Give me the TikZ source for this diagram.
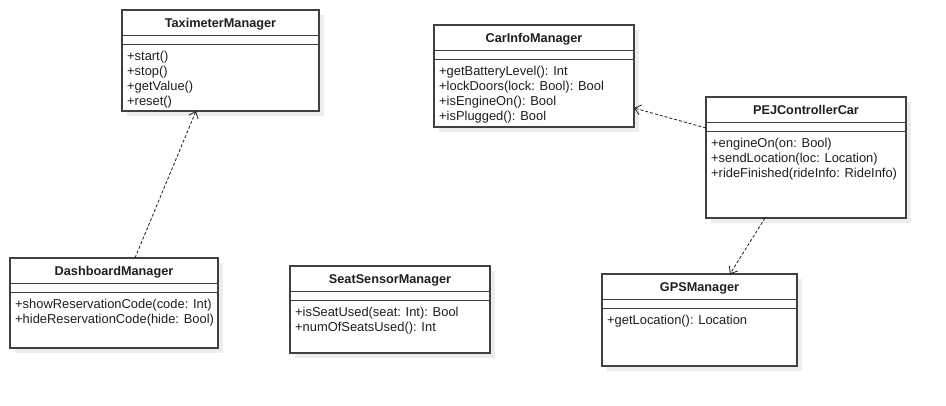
\documentclass[tikz,border=0pt]{standalone}
\usepackage{fontspec}
\setmainfont{Liberation Sans}
\usetikzlibrary{arrows.meta}
\definecolor{boxline}{HTML}{404040}
\definecolor{shadowc}{HTML}{EDEDED}
\definecolor{txt}{HTML}{1E1E1E}
\tikzset{
  classbox/.style={draw=boxline, line width=1.3pt, fill=white, anchor=north west, inner sep=0pt, outer sep=0pt},
  sepline/.style={draw=boxline, line width=1.3pt},
  classtitle/.style={anchor=base, inner sep=0pt, text=txt, font=\fontsize{12.7}{15}\selectfont\bfseries},
  meth/.style={anchor=base west, inner sep=0pt, text=txt, font=\fontsize{12.9}{15}\selectfont},
  dep/.style={draw=txt, line width=0.8pt, dash pattern=on 3pt off 2pt, -{Straight Barb[length=6pt,width=10pt,line width=0.8pt]}}
}
\newcommand\umlclass[7]{%
  \pgfmathsetmacro\uw{#4-#2}%
  \pgfmathsetmacro\uh{#5-#3}%
  \fill[shadowc] (#2+5,#3+5) rectangle (#4+5,#5+5);
  \node[classbox, minimum width=\uw pt, minimum height=\uh pt] (#1) at (#2,#3) {};
  \draw[sepline] (#2,#3+25.5) -- (#4,#3+25.5);
  \draw[sepline] (#2,#3+34.5) -- (#4,#3+34.5);
  \node[classtitle] (#1-t) at ({(#2+#4)/2},#3+17.5) {#6};
  \foreach \m [count=\i from 0] in {#7} {\node[meth] (#1-m\i) at (#2+5,#3+50.8+14.9*\i) {\m};}
}
\begin{document}
\begin{tikzpicture}[x=1pt,y=-1pt]
\fill[white] (0,0) rectangle (946,406);
\useasboundingbox (0,0) rectangle (946,406);
\umlclass{tax}{122}{10}{319}{111}{TaximeterManager}{{+start()},{+stop()},{+getValue()},{+reset()}}
\umlclass{car}{434}{25}{634}{127}{CarInfoManager}{{+getBatteryLevel(): Int},{+lockDoors(lock: Bool): Bool},{+isEngineOn(): Bool},{+isPlugged(): Bool}}
\umlclass{pej}{706}{97}{906}{218}{PEJControllerCar}{{+engineOn(on: Bool)},{+sendLocation(loc: Location)},{+rideFinished(rideInfo: RideInfo)}}
\umlclass{dash}{10}{258}{218}{348}{DashboardManager}{{+showReservationCode(code: Int)},{+hideReservationCode(hide: Bool)}}
\umlclass{seat}{290}{266}{490}{353}{SeatSensorManager}{{+isSeatUsed(seat: Int): Bool},{+numOfSeatsUsed(): Int}}
\umlclass{gps}{602}{274}{797}{366}{GPSManager}{{+getLocation(): Location}}
\draw[dep] ([xshift=125pt]dash.north west) -- ([xshift=74pt]tax.south west);
\draw[dep] ([yshift=-31pt]pej.north west) -- ([yshift=-83pt]car.north east);
\draw[dep] ([xshift=59pt]pej.south west) -- ([xshift=128pt]gps.north west);
\end{tikzpicture}
\end{document}
